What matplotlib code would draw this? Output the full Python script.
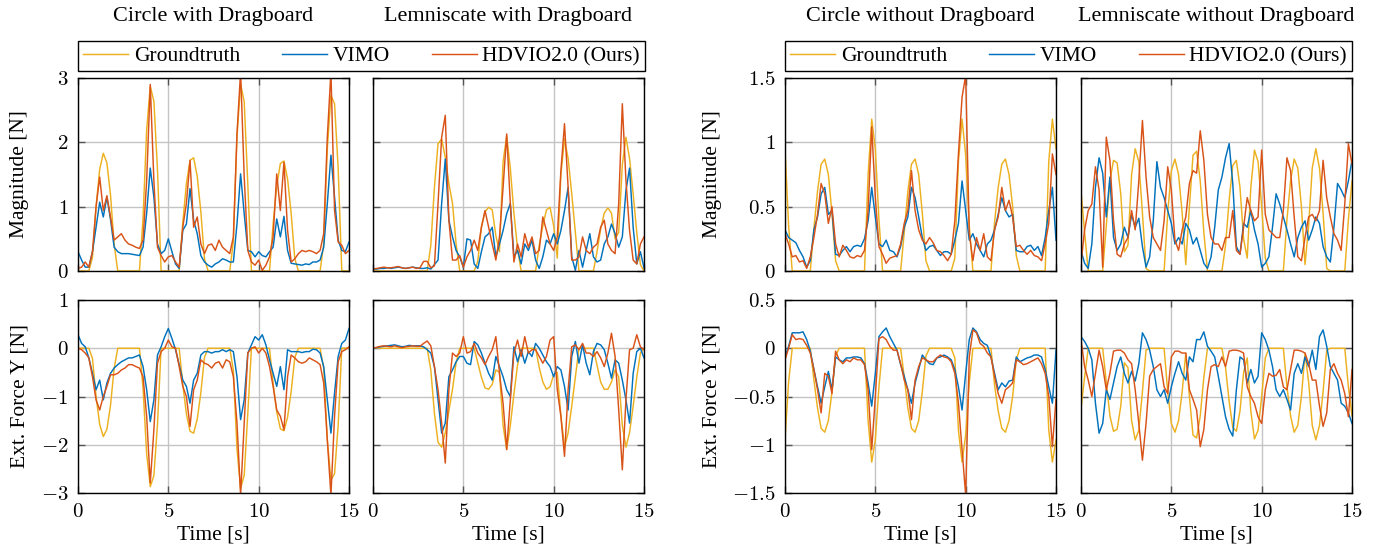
import numpy as np
import matplotlib
matplotlib.use("Agg")
import matplotlib.pyplot as plt
from matplotlib.ticker import FuncFormatter, FixedLocator

plt.rcParams['font.family'] = ['Liberation Serif', 'DejaVu Serif']
plt.rcParams['mathtext.fontset'] = 'cm'

# ---------------- data (0.2 s sampling) ----------------
time_s = np.linspace(0, 15, 76)

series_labels = ["Groundtruth", "VIMO", "HDVIO2.0 (Ours)"]
panel_titles = ["Circle with Dragboard", "Lemniscate with Dragboard",
                "Circle without Dragboard", "Lemniscate without Dragboard"]
row_labels = ["Magnitude [N]", "Ext. Force Y [N]"]
x_label = "Time [s]"
x_ticks = [0, 5, 10, 15]
y_ticks_drag_mag = [0, 1, 2, 3]
y_ticks_drag_fy = [-3, -2, -1, 0, 1]
y_ticks_nodrag_mag = [0, 0.5, 1, 1.5]
y_ticks_nodrag_fy = [-1.5, -1, -0.5, 0, 0.5]

# Circle with dragboard
gt_mag_cd = [0, 0, 0, 0, 0.21, 1.0, 1.58, 1.83, 1.68, 1.18,
             0.42, 0, 0, 0, 0, 0, 0, 0, 0.82, 2.19,
             2.87, 2.64, 1.57, 0, 0, 0, 0, 0, 0, 0.75,
             1.36, 1.72, 1.76, 1.47, 0.92, 0.19, 0, 0, 0, 0,
             0, 0, 0, 0.46, 2.09, 2.91, 2.63, 1.34, 0, 0,
             0, 0, 0, 0, 0.73, 1.32, 1.67, 1.71, 1.43, 0.89,
             0.19, 0, 0, 0, 0, 0, 0, 0, 0.42, 1.9,
             2.73, 2.6, 1.6, 0, 0, 0]
vimo_mag_cd = [0.3, 0.17, 0.06, 0.06, 0.3, 0.68, 1.07, 0.84, 1.15, 0.8,
               0.37, 0.3, 0.27, 0.27, 0.27, 0.26, 0.25, 0.24, 0.37, 0.9,
               1.6, 1.15, 0.42, 0.27, 0.32, 0.5, 0.3, 0.11, 0.04, 0.63,
               0.73, 1.28, 0.79, 0.58, 0.24, 0.14, 0.09, 0.06, 0.11, 0.14,
               0.19, 0.17, 0.14, 0.14, 0.73, 1.51, 0.89, 0.32, 0.3, 0.22,
               0.3, 0.24, 0.22, 0.3, 0.37, 0.81, 0.53, 0.85, 0.32, 0.12,
               0.11, 0.1, 0.09, 0.11, 0.1, 0.14, 0.14, 0.17, 0.37, 1.05,
               1.8, 1.15, 0.48, 0.32, 0.3, 0.45]
hd_mag_cd = [0.04, 0.06, 0.14, 0.06, 0.3, 1.0, 1.46, 0.94, 1.17, 0.84,
             0.48, 0.53, 0.58, 0.48, 0.42, 0.4, 0.37, 0.35, 0.48, 1.4,
             2.9, 1.4, 0.37, 0.24, 0.14, 0.22, 0.24, 0.14, 0.06, 0.68,
             1.05, 1.72, 0.68, 0.84, 0.42, 0.27, 0.4, 0.42, 0.32, 0.48,
             0.37, 0.32, 0.27, 0.53, 2.13, 3.1, 1.46, 0.32, 0.14, 0.09,
             0.17, 0.01, 0.09, 0.22, 0.53, 1.51, 0.94, 1.69, 0.63, 0.14,
             0.19, 0.27, 0.32, 0.3, 0.32, 0.3, 0.27, 0.32, 0.58, 2.08,
             3.1, 0.94, 0.45, 0.4, 0.27, 0.32]
gt_fy_cd = [0, 0, 0, 0, -0.21, -1.0, -1.58, -1.83, -1.68, -1.18,
            -0.42, 0, 0, 0, 0, 0, 0, 0, -0.82, -2.19,
            -2.87, -2.64, -1.57, 0, 0, 0, 0, 0, 0, -0.75,
            -1.36, -1.72, -1.76, -1.47, -0.92, -0.19, 0, 0, 0, 0,
            0, 0, 0, -0.46, -2.09, -2.91, -2.63, -1.34, 0, 0,
            0, 0, 0, 0, -0.73, -1.32, -1.67, -1.71, -1.43, -0.89,
            -0.19, 0, 0, 0, 0, 0, 0, 0, -0.42, -1.9,
            -2.73, -2.6, -1.6, 0, 0, 0]
vimo_fy_cd = [0.28, 0.1, 0.03, -0.2, -0.52, -0.86, -0.66, -1.07, -0.72, -0.52,
              -0.41, -0.34, -0.28, -0.24, -0.2, -0.2, -0.17, -0.14, -0.38, -0.86,
              -1.52, -1.07, -0.14, 0.03, 0.24, 0.41, 0.2, -0.03, -0.34, -0.66,
              -0.79, -1.14, -0.66, -0.52, -0.14, -0.07, -0.07, -0.1, -0.07, -0.07,
              -0.03, -0.07, -0.03, -0.07, -0.59, -1.48, -1.07, -0.1, 0.07, 0.24,
              0.17, 0.28, 0.07, -0.24, -0.52, -0.79, -0.38, -0.86, -0.03, -0.07,
              -0.07, -0.07, -0.09, -0.07, -0.07, -0.02, -0.03, -0.1, -0.38, -1.07,
              -1.76, -0.93, -0.17, 0.1, 0.17, 0.41]
hd_fy_cd = [0, -0.03, -0.1, -0.2, -0.59, -1.07, -1.28, -1.0, -0.79, -0.55,
            -0.55, -0.52, -0.45, -0.41, -0.34, -0.34, -0.38, -0.41, -0.59, -1.41,
            -2.79, -1.69, -0.31, -0.07, 0, 0.17, 0.03, 0, -0.38, -0.79,
            -1.0, -1.62, -0.86, -0.66, -0.24, -0.31, -0.34, -0.41, -0.31, -0.28,
            -0.41, -0.24, -0.28, -0.59, -1.55, -3.05, -1.55, -0.1, 0, 0.03,
            -0.1, 0, -0.1, -0.38, -0.79, -1.28, -1.41, -1.69, -0.59, -0.14,
            -0.2, -0.28, -0.31, -0.28, -0.2, -0.24, -0.28, -0.34, -0.72, -1.9,
            -3.05, -1.41, -0.28, -0.07, -0.03, 0.03]

# Lemniscate with dragboard
gt_mag_ld = [0, 0, 0, 0, 0, 0, 0, 0, 0, 0,
             0, 0, 0, 0, 0, 0, 0.4, 1.3, 1.98, 2.05,
             1.77, 1.36, 1.05, 0.42, 0, 0, 0, 0, 0, 0.15,
             0.68, 0.92, 0.99, 0.95, 0.55, 0.3, 1.7, 2.1, 1.6, 0.9,
             0.35, 0, 0, 0, 0, 0, 0.4, 0.7, 0.95, 0.99,
             0.7, 0.2, 1.5, 2.05, 1.75, 1.2, 0.6, 0, 0, 0,
             0, 0, 0.3, 0.65, 0.9, 0.98, 0.9, 0.5, 0.6, 1.65,
             2.08, 1.75, 1.2, 0.6, 0.1, 0]
vimo_mag_ld = [0.03, 0.03, 0.04, 0.04, 0.05, 0.04, 0.05, 0.06, 0.05, 0.04,
               0.05, 0.06, 0.05, 0.04, 0.04, 0.05, 0.03, 0.1, 0.17, 1.05,
               1.74, 0.79, 0.53, 0.32, 0.22, 0.06, 0.5, 0.48, 0.11, 0.04,
               0.3, 0.53, 0.58, 0.68, 0.22, 0.42, 0.63, 0.89, 1.05, 0.22,
               0.32, 0.11, 0.42, 0.32, 0.48, 0.17, 0.04, 0.22, 0.48, 0.42,
               0.58, 0.42, 0.63, 0.94, 1.3, 0.22, 0.01, 0.32, 0.06, 0.32,
               0.58, 0.22, 0.14, 0.17, 0.42, 0.53, 0.73, 0.58, 0.37, 0.53,
               1.25, 1.6, 0.68, 0.11, 0.3, 0.05]
hd_mag_ld = [0.03, 0.04, 0.05, 0.06, 0.05, 0.05, 0.06, 0.07, 0.05, 0.04,
             0.05, 0.06, 0.04, 0.05, 0.15, 0.15, 0.05, 0.08, 1.05, 2.08,
             2.42, 0.79, 0.17, 0.17, 0.24, 0.06, 0.22, 0.32, 0.48, 0.32,
             0.68, 0.94, 0.68, 0.42, 0.17, 0.53, 1.3, 2.13, 1.05, 0.14,
             0.42, 0.22, 0.58, 0.37, 0.53, 0.27, 0.32, 0.84, 0.63, 0.42,
             0.32, 0.53, 1.56, 2.29, 1.3, 0.17, 0.17, 0.22, 0.53, 0.32,
             0.27, 0.37, 0.42, 0.68, 0.79, 0.42, 0.32, 0.27, 1.05, 2.6,
             1.41, 0.63, 0.17, 0.11, 0.42, 0.53]
gt_fy_ld = [0, 0, 0, 0, 0, 0, 0, 0, 0, 0,
            0, 0, 0, 0, 0, 0, -0.45, -1.35, -1.95, -2.05,
            -1.75, -1.3, -0.85, -0.3, 0, 0, 0, 0, 0, -0.3,
            -0.6, -0.82, -0.85, -0.75, -0.45, -0.5, -1.6, -2.1, -1.6, -0.95,
            -0.35, 0, 0, 0, 0, 0, -0.4, -0.7, -0.85, -0.8,
            -0.55, -0.5, -1.4, -2.05, -1.75, -1.2, -0.6, 0, 0, 0,
            0, 0, -0.35, -0.7, -0.85, -0.85, -0.7, -0.45, -0.6, -1.6,
            -2.05, -1.75, -1.2, -0.6, -0.1, 0]
vimo_fy_ld = [0, 0.01, 0.03, 0.04, 0.05, 0.06, 0.07, 0.05, 0.03, 0.04,
              0.06, 0.05, 0.05, 0.05, 0.03, -0.03, -0.1, -0.38, -1.07, -1.76,
              -1.55, -0.59, -0.45, -0.28, -0.17, -0.17, -0.31, -0.34, 0.14, 0.07,
              -0.1, -0.31, -0.52, -0.66, -0.17, -0.38, -0.59, -0.86, -1.0, 0.03,
              -0.28, -0.03, -0.31, -0.07, -0.17, 0.1, 0, -0.14, -0.28, -0.38,
              -0.59, -0.38, -0.45, -0.79, -1.28, -0.17, 0.14, -0.31, 0.07, -0.31,
              -0.55, -0.07, 0.1, 0.07, -0.03, -0.31, -0.62, -0.24, -0.31, -0.66,
              -1.07, -1.55, -0.52, -0.07, 0, -0.2]
hd_fy_ld = [0, 0.02, 0.04, 0.05, 0.04, 0.03, 0.05, 0.03, 0.01, 0.03,
            0.04, 0.05, 0.04, 0.04, 0.1, 0.15, 0.05, -0.38, -0.86, -1.55,
            -2.38, -0.86, -0.1, -0.17, -0.1, 0.24, -0.1, -0.07, 0.1, -0.1,
            -0.2, -0.34, -0.17, -0.03, 0.24, -0.52, -1.14, -2.1, -1.07, -0.1,
            0.17, -0.17, 0.24, -0.1, -0.03, -0.03, -0.17, -0.31, -0.17, 0.17,
            0.24, -0.86, -1.41, -2.24, -0.86, 0.03, 0.07, -0.03, 0.1, -0.1,
            -0.1, -0.17, -0.07, -0.2, -0.38, -0.1, 0.31, -0.17, -1.28, -2.52,
            -1.07, -0.03, 0, 0.28, 0.03, -0.03]

# Circle without dragboard
gt_mag_cn = [0.95, 0.35, 0, 0, 0, 0, 0, 0, 0.33, 0.62,
             0.83, 0.87, 0.75, 0.45, 0.08, 0, 0, 0, 0, 0,
             0, 0, 0, 0.75, 1.18, 0.95, 0.4, 0, 0, 0,
             0, 0, 0, 0.3, 0.62, 0.83, 0.87, 0.75, 0.45, 0.08,
             0, 0, 0, 0, 0, 0, 0, 0.1, 0.85, 1.18,
             0.9, 0.35, 0, 0, 0, 0, 0, 0, 0.38, 0.65,
             0.83, 0.87, 0.75, 0.5, 0.12, 0, 0, 0, 0, 0,
             0, 0, 0, 0.85, 1.18, 0.95]
vimo_mag_cn = [0.32, 0.26, 0.24, 0.22, 0.16, 0.11, 0.03, 0.08, 0.32, 0.42,
               0.6, 0.65, 0.44, 0.47, 0.13, 0.12, 0.16, 0.19, 0.15, 0.19,
               0.2, 0.19, 0.25, 0.39, 0.65, 0.42, 0.21, 0.19, 0.24, 0.16,
               0.15, 0.11, 0.19, 0.34, 0.42, 0.65, 0.57, 0.42, 0.26, 0.16,
               0.19, 0.2, 0.16, 0.12, 0.15, 0.15, 0.13, 0.24, 0.37, 0.7,
               0.47, 0.24, 0.29, 0.21, 0.16, 0.11, 0.21, 0.24, 0.32, 0.44,
               0.57, 0.47, 0.42, 0.44, 0.16, 0.15, 0.15, 0.19, 0.2, 0.16,
               0.19, 0.12, 0.26, 0.47, 0.65, 0.24]
hd_mag_cn = [0.29, 0.21, 0.11, 0.12, 0.07, 0.08, 0.02, 0.11, 0.26, 0.44,
             0.68, 0.6, 0.37, 0.5, 0.21, 0.11, 0.2, 0.16, 0.11, 0.1,
             0.12, 0.11, 0.16, 0.47, 1.12, 0.57, 0.19, 0.13, 0.06, 0.1,
             0.11, 0.12, 0.21, 0.37, 0.47, 0.78, 0.47, 0.32, 0.24, 0.21,
             0.26, 0.22, 0.16, 0.15, 0.12, 0.08, 0.13, 0.39, 0.91, 1.35,
             1.52, 0.29, 0.08, 0.26, 0.16, 0.29, 0.11, 0.08, 0.32, 0.42,
             0.65, 0.47, 0.55, 0.42, 0.19, 0.2, 0.16, 0.13, 0.16, 0.12,
             0.11, 0.08, 0.21, 0.37, 0.91, 0.75]
gt_fy_cn = [-0.95, -0.35, 0, 0, 0, 0, 0, 0, -0.33, -0.62,
            -0.83, -0.87, -0.75, -0.45, -0.08, 0, 0, 0, 0, 0,
            0, 0, 0, -0.75, -1.18, -0.95, -0.4, 0, 0, 0,
            0, 0, 0, -0.3, -0.62, -0.83, -0.87, -0.75, -0.45, -0.08,
            0, 0, 0, 0, 0, 0, 0, -0.1, -0.85, -1.18,
            -0.9, -0.35, 0, 0, 0, 0, 0, 0, -0.38, -0.65,
            -0.83, -0.87, -0.75, -0.5, -0.12, 0, 0, 0, 0, 0,
            0, 0, 0, -0.85, -1.18, -0.95]
vimo_fy_cn = [-0.09, 0.02, 0.16, 0.16, 0.16, 0.17, 0.09, -0.03, -0.22, -0.4,
              -0.57, -0.4, -0.24, -0.43, -0.09, -0.12, -0.14, -0.1, -0.1, -0.09,
              -0.09, -0.1, -0.16, -0.36, -0.6, -0.26, 0.12, 0.17, 0.21, 0.12,
              0.05, -0.02, -0.17, -0.29, -0.43, -0.57, -0.36, -0.22, -0.07, -0.12,
              -0.16, -0.17, -0.1, -0.09, -0.07, -0.09, -0.12, -0.22, -0.4, -0.64,
              -0.26, 0.09, 0.21, 0.17, 0.09, 0.05, 0.03, -0.09, -0.26, -0.43,
              -0.36, -0.4, -0.34, -0.33, -0.09, -0.14, -0.12, -0.1, -0.09, -0.07,
              -0.07, -0.09, -0.22, -0.4, -0.57, -0.02]
hd_fy_cn = [-0.12, 0, 0.14, 0.09, 0.1, 0.09, 0.03, -0.05, -0.22, -0.43,
            -0.67, -0.26, -0.29, -0.47, -0.03, -0.12, -0.16, -0.12, -0.14, -0.1,
            -0.12, -0.12, -0.17, -0.43, -1.05, -0.5, 0.1, 0.12, 0.09, 0.02,
            -0.02, -0.02, -0.16, -0.33, -0.43, -0.74, -0.33, -0.19, -0.1, -0.12,
            -0.14, -0.14, -0.1, -0.07, -0.09, -0.1, -0.14, -0.26, -0.57, -1.05,
            -1.52, -0.09, 0.19, 0.16, 0.05, 0.02, -0.05, -0.09, -0.29, -0.47,
            -0.57, -0.43, -0.4, -0.36, -0.12, -0.14, -0.17, -0.16, -0.14, -0.12,
            -0.1, -0.16, -0.26, -0.5, -1.02, -0.53]

# Lemniscate without dragboard
gt_mag_ln = [0.62, 0.3, 0, 0, 0, 0, 0, 0.35, 0.7, 0.86,
             0.84, 0.6, 0.15, 0.2, 0.75, 0.95, 0.85, 0.45, 0.02, 0,
             0, 0, 0, 0, 0.45, 0.78, 0.87, 0.75, 0.45, 0.05,
             0.5, 0.9, 0.93, 0.7, 0.3, 0, 0, 0, 0, 0,
             0.2, 0.55, 0.82, 0.86, 0.65, 0.25, 0.1, 0.65, 0.94, 0.85,
             0.5, 0.1, 0, 0, 0, 0, 0, 0.4, 0.7, 0.87,
             0.8, 0.5, 0.05, 0.35, 0.8, 0.95, 0.8, 0.45, 0.02, 0,
             0, 0, 0, 0, 0.4, 0.7]
vimo_mag_ln = [0.16, 0.06, 0.02, 0.21, 0.65, 0.88, 0.76, 0.42, 0.73, 0.26,
               0.16, 0.21, 0.34, 0.26, 0.44, 0.34, 0.41, 0.19, 0.03, 0.11,
               0.39, 0.85, 0.65, 0.57, 0.47, 0.37, 0.21, 0.26, 0.21, 0.37,
               0.32, 0.21, 0.26, 0.16, 0.06, 0.02, 0.11, 0.34, 0.63, 0.73,
               0.88, 0.99, 0.68, 0.19, 0.13, 0.37, 0.34, 0.47, 0.32, 0.21,
               0.03, 0.06, 0.11, 0.34, 0.6, 0.52, 0.42, 0.32, 0.21, 0.11,
               0.26, 0.34, 0.39, 0.24, 0.32, 0.42, 0.37, 0.19, 0.11, 0.07,
               0.34, 0.68, 0.63, 0.57, 0.7, 0.86]
hd_mag_ln = [0.06, 0.32, 0.47, 0.52, 0.81, 0.63, 0.03, 1.04, 0.86, 0.39,
             0.13, 0.11, 0.21, 0.26, 0.47, 0.32, 0.7, 1.17, 0.73, 0.42,
             0.26, 0.21, 0.16, 0.39, 0.81, 0.63, 0.24, 0.16, 0.32, 0.42,
             0.68, 0.78, 0.76, 1.09, 0.86, 0.44, 0.26, 0.21, 0.21, 0.16,
             0.26, 0.26, 0.47, 0.16, 0.13, 0.34, 0.57, 0.47, 0.39, 0.42,
             0.94, 0.44, 0.32, 0.29, 0.26, 0.26, 0.47, 0.88, 0.78, 0.42,
             0.11, 0.08, 0.26, 0.42, 0.44, 0.39, 0.47, 0.86, 0.57, 0.42,
             0.29, 0.24, 0.16, 0.52, 0.99, 0.83]
gt_fy_ln = [-0.62, -0.3, 0, 0, 0, 0, 0, -0.35, -0.7, -0.86,
            -0.84, -0.6, -0.15, -0.2, -0.75, -0.95, -0.85, -0.45, -0.02, 0,
            0, 0, 0, 0, -0.45, -0.78, -0.87, -0.75, -0.45, -0.05,
            -0.5, -0.9, -0.93, -0.7, -0.3, 0, 0, 0, 0, 0,
            -0.2, -0.55, -0.82, -0.86, -0.65, -0.25, -0.1, -0.65, -0.94, -0.85,
            -0.5, -0.1, 0, 0, 0, 0, 0, -0.4, -0.7, -0.87,
            -0.8, -0.5, -0.05, -0.35, -0.8, -0.95, -0.8, -0.45, -0.02, 0,
            0, 0, 0, 0, -0.4, -0.7]
vimo_fy_ln = [0.12, 0.07, 0, -0.12, -0.57, -0.88, -0.78, -0.43, -0.53, -0.36,
              -0.19, -0.09, -0.26, -0.36, -0.24, -0.34, -0.16, 0.16, 0.09, -0.02,
              -0.19, -0.43, -0.5, -0.43, -0.57, -0.4, -0.26, -0.14, -0.26, -0.33,
              -0.09, -0.14, 0.09, 0.09, 0.17, 0.02, -0.03, -0.09, -0.29, -0.5,
              -0.71, -0.84, -0.91, -0.43, -0.09, -0.12, -0.36, -0.22, -0.36, -0.29,
              0.16, 0.09, -0.02, -0.19, -0.43, -0.5, -0.43, -0.53, -0.64, -0.26,
              -0.16, -0.26, -0.09, -0.19, -0.02, -0.22, 0.12, 0.19, 0.02, -0.19,
              -0.26, -0.33, -0.57, -0.6, -0.67, -0.78]
hd_fy_ln = [0.09, -0.19, -0.33, -0.5, -0.26, -0.02, -0.19, -0.43, -0.26, -0.03,
            -0.02, -0.02, -0.05, -0.12, -0.16, -0.43, -0.78, -1.16, -0.78, -0.29,
            -0.22, -0.19, -0.16, -0.4, -0.47, -0.09, -0.03, -0.03, -0.05, -0.05,
            -0.43, -0.53, -0.64, -1.02, -0.84, -0.43, -0.19, -0.17, -0.19, -0.09,
            -0.19, -0.03, -0.02, -0.02, -0.03, -0.05, -0.4, -0.5, -0.57, -0.71,
            -0.78, -0.43, -0.26, -0.29, -0.28, -0.22, -0.4, -0.43, -0.22, -0.02,
            -0.02, -0.03, -0.05, -0.16, -0.33, -0.33, -0.6, -0.81, -0.67, -0.22,
            -0.16, -0.26, -0.33, -0.47, -0.71, -0.22]

# ---------------- styling ----------------
colors = ['#EDB120', '#0072BD', '#D95319']
W, H = 1384, 548
cols_px = [(78, 349), (373, 644), (785, 1056), (1081, 1352)]
rows_px = [(78, 271), (300, 493)]
FS_TICK, FS_LAB, FS_TITLE = 15, 15.5, 16

panels = [
    # (col, row, [gt, vimo, hd], ylim, yticks)
    (0, 0, [gt_mag_cd, vimo_mag_cd, hd_mag_cd], (0, 3), y_ticks_drag_mag),
    (1, 0, [gt_mag_ld, vimo_mag_ld, hd_mag_ld], (0, 3), y_ticks_drag_mag),
    (0, 1, [gt_fy_cd, vimo_fy_cd, hd_fy_cd], (-3, 1), y_ticks_drag_fy),
    (1, 1, [gt_fy_ld, vimo_fy_ld, hd_fy_ld], (-3, 1), y_ticks_drag_fy),
    (2, 0, [gt_mag_cn, vimo_mag_cn, hd_mag_cn], (0, 1.5), y_ticks_nodrag_mag),
    (3, 0, [gt_mag_ln, vimo_mag_ln, hd_mag_ln], (0, 1.5), y_ticks_nodrag_mag),
    (2, 1, [gt_fy_cn, vimo_fy_cn, hd_fy_cn], (-1.5, 0.5), y_ticks_nodrag_fy),
    (3, 1, [gt_fy_ln, vimo_fy_ln, hd_fy_ln], (-1.5, 0.5), y_ticks_nodrag_fy),
]

fmt = FuncFormatter(lambda v, p: f"${v:g}$")

fig = plt.figure(figsize=(W / 100, H / 100), dpi=100)
handles = None
for c, r, ser, ylim, yt in panels:
    x0, x1 = cols_px[c]
    y0, y1 = rows_px[r]
    ax = fig.add_axes([x0 / W, 1 - y1 / H, (x1 - x0) / W, (y1 - y0) / H])
    lines = []
    for vals, col, lab in zip(ser, colors, series_labels):
        ln, = ax.plot(time_s, vals, color=col, lw=1.05, label=lab)
        lines.append(ln)
    if handles is None:
        handles = lines
    ax.set_xlim(0, 15)
    ax.set_ylim(*ylim)
    ax.xaxis.set_major_locator(FixedLocator(x_ticks))
    ax.yaxis.set_major_locator(FixedLocator(yt))
    ax.xaxis.set_major_formatter(fmt)
    ax.yaxis.set_major_formatter(fmt)
    ax.grid(True, color='#c4c4c4', lw=1.0)
    ax.set_axisbelow(True)
    ax.tick_params(direction='in', length=5, width=1.0, color='#555555',
                   top=True, right=True, labelsize=FS_TICK, pad=7)
    if r == 0:
        ax.tick_params(labelbottom=False)
    if c in (1, 3):
        ax.tick_params(labelleft=False)
    for s in ax.spines.values():
        s.set_linewidth(1.0)
        s.set_color('black')

# titles and x labels
for c, title in enumerate(panel_titles):
    x0, x1 = cols_px[c]
    fig.text((x0 + x1) / 2 / W, 1 - 16 / H, title, ha='center', va='center',
             fontsize=FS_TITLE)
    fig.text((x0 + x1) / 2 / W, 1 - 535 / H, x_label, ha='center', va='center',
             fontsize=FS_LAB)

# y labels
for xpx in (20, 712):
    for r, lab in enumerate(row_labels):
        y0, y1 = rows_px[r]
        fig.text(xpx / W, 1 - (y0 + y1) / 2 / H, lab, rotation=90,
                 ha='center', va='center', fontsize=FS_LAB)

# legends
for lx0, lx1 in ((78, 645), (785, 1352)):
    leg = fig.legend(handles, series_labels, loc='center',
                     bbox_to_anchor=((lx0 + lx1) / 2 / W, 1 - 56 / H),
                     ncol=3, frameon=True, fancybox=False,
                     edgecolor='black', framealpha=1, borderaxespad=0,
                     handlelength=2.1, handletextpad=0.25, columnspacing=1.95,
                     borderpad=0.25, fontsize=FS_LAB)
    leg.get_frame().set_linewidth(1.0)

fig.savefig("out.png", dpi=100)
